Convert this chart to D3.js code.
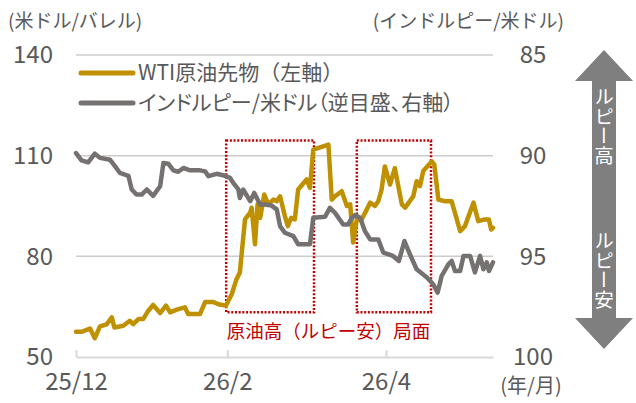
<!DOCTYPE html>
<html>
<head>
<meta charset="utf-8">
<script src="https://cdn.jsdelivr.net/npm/d3@7"></script>
<style>
body { margin: 0; background: #fff; }
svg text { font-family: "Noto Sans CJK JP", "Noto Sans", sans-serif; fill: #595959; }
</style>
</head>
<body>
<div id="chart"></div>
<script>
// trading-day index from 2025/12/1
var wtiDays = [0, 1.5, 3.8, 5.1, 6.5, 8.3, 9.7, 10.4, 12.8, 14.6, 15.5, 16.9, 18.2, 19.6, 20.9, 22.8, 24.4, 25.5, 27.3, 29.5, 30.4, 33.6, 35, 37.2, 38.6, 40.6, 42.2, 43.5,
    44.4, 45.8, 47.2, 47.6, 48.5, 49.2, 49.9, 51, 52.1, 53.5, 54.4, 55.3, 56.6, 57.4, 58.3, 59.3, 60.2, 62.5, 63.4, 64.3, 68.4, 69.3, 70.2, 72, 73.4, 74.3, 75.1,
    76.1, 77.4, 78.8, 79.7, 81, 81.9, 82.8, 83.7, 85.1, 86.4, 88.3, 89.2, 91.4, 92.3, 93.2, 94.1, 96.4, 97.1, 98.2, 100, 101.8, 104.1, 105.4, 107.7, 109, 110.8, 111.9, 112.5, 113];
var wtiValues = [57.5, 57.5, 58.5, 55.6, 59.1, 59.7, 61.8, 58.8, 59.3, 60.8, 59.8, 61.3, 61.3, 63.8, 65.5, 63.1, 65.3, 63.3, 64.1, 64.8, 62.8, 62.8, 66.4, 66.4, 65.7, 65.3, 68.7, 73.2,
    75.2, 91.0, 93.0, 94.5, 83.6, 95.5, 91.5, 98.4, 95.5, 96.9, 96.4, 97.9, 92.0, 89.0, 91.5, 91.0, 99.9, 102.9, 100.4, 111.8, 113.3, 96.9, 97.9, 99.4, 95.0, 95.5, 84.1,
    91.0, 91.0, 94.0, 96.0, 95.0, 96.4, 99.9, 106.8, 101.4, 106.3, 95.5, 94.5, 97.9, 102.4, 100.9, 105.4, 108.3, 107.3, 96.9, 96.4, 96.4, 87.5, 89.0, 96.0, 90.5, 91.0, 91.0, 88.0, 88.5];

var inrDays = [0, 1.5, 3.3, 5.1, 6.5, 9.2, 10.6, 11.9, 14.2, 15.1, 16.4, 17.8, 19.2, 20.9, 22.8, 23.7, 25, 26.4, 27.7, 29.1, 30.9, 33.6, 35, 35.9, 38.1, 40.4,
    41.7, 42.6, 44, 44.4, 45.3, 47.2, 48.3, 49.9, 51.2, 53, 54.4, 55.3, 56.6, 58.9, 60.2, 63.4, 64.3, 67.5, 68.8, 70.2, 72.4, 73.7, 74.7, 75.6, 77, 78.3, 79.7,
    81.9, 83.3, 85.9, 87.5, 89, 90.5, 92.3, 95.1, 96.8, 98, 99.1, 100.9, 101.8, 102.7, 104.1, 105, 106.8, 108.1, 109.5, 110.4, 111.3, 111.9, 113];
var inrValues = [89.87, 90.23, 90.33, 89.9, 90.11, 90.2, 90.53, 90.86, 91.0, 91.68, 91.93, 91.93, 91.68, 92.0, 91.52, 90.36, 90.4, 90.73, 90.8, 90.61, 90.73, 90.73, 90.78, 91.02, 90.9, 91.0,
    91.1, 91.35, 91.68, 92.1, 91.68, 92.26, 91.85, 92.43, 92.43, 92.48, 92.67, 93.5, 93.83, 94.0, 94.4, 94.4, 93.08, 93.03, 92.59, 92.84, 93.42, 93.42, 93.1, 92.95, 93.08, 93.75, 94.16,
    94.16, 94.82, 94.98, 95.23, 94.24, 94.9, 95.64, 96.05, 96.39, 96.8, 95.97, 95.4, 95.23, 95.73, 95.73, 94.98, 94.98, 95.8, 94.98, 95.64, 95.3, 95.73, 95.3];

var tickDays = [0, 41, 84];
var tickLabels = ["25/12", "26/2", "26/4"];
var leftTicks = [50, 80, 110, 140];
var rightTicks = [85, 90, 95, 100];
// 原油高（ルピー安）局面: start/end day
var phaseStart = [40.7, 76.1];
var phaseEnd = [64.5, 96.2];
var seriesNames = ["WTI原油先物（左軸）", "インドルピー/米ドル（逆目盛、右軸）"];

var W = 636, H = 403;
var mLeft = 76, mRight = 493, mTop = 55, mBottom = 357;
var gold = "#bf9000", grey = "#767171", red = "#c00000";

var svg = d3.select("#chart").append("svg")
    .attr("width", W)
    .attr("height", H);

var x = d3.scaleLinear().domain([0, 113]).range([mLeft, mRight]);
var yL = d3.scaleLinear().domain([50, 140]).range([mBottom, mTop]);
var yR = d3.scaleLinear().domain([85, 100]).range([mTop, mBottom]);

// grid
svg.append("g")
    .selectAll("line")
    .data(leftTicks.slice(1))
    .enter().append("line")
    .attr("x1", mLeft).attr("x2", mRight)
    .attr("y1", function(d) { return yL(d); })
    .attr("y2", function(d) { return yL(d); })
    .attr("stroke", "#cccccc")
    .attr("stroke-width", 1.5);

// x axis
var xAxis = svg.append("g")
    .attr("transform", "translate(0," + mBottom + ")")
    .call(d3.axisBottom(x).tickValues(tickDays)
        .tickFormat(function(d, i) { return tickLabels[i]; })
        .tickSizeInner(-7).tickSizeOuter(0).tickPadding(16));
xAxis.select(".domain").attr("stroke", "#d9d9d9").attr("stroke-width", 2);
xAxis.selectAll(".tick line").attr("stroke", "#d9d9d9").attr("stroke-width", 2);
xAxis.selectAll(".tick text").style("font-size", "24px").attr("fill", "#595959");
svg.append("text")
    .attr("x", 531).attr("y", mBottom + 36)
    .attr("text-anchor", "middle")
    .style("font-size", "20px")
    .text("(年/月)");

// left axis
var yAxisL = svg.append("g")
    .attr("transform", "translate(53,0)")
    .call(d3.axisLeft(yL).tickValues(leftTicks).tickSize(0).tickPadding(0));
yAxisL.select(".domain").remove();
yAxisL.selectAll("text").style("font-size", "24px").attr("fill", "#595959");

// right axis
var yAxisR = svg.append("g")
    .attr("transform", "translate(533,0)")
    .call(d3.axisRight(yR).tickValues(rightTicks).tickSize(0).tickPadding(0));
yAxisR.select(".domain").remove();
yAxisR.selectAll("text").attr("text-anchor", "middle").style("font-size", "24px").attr("fill", "#595959");

// axis titles
svg.append("text").attr("x", 8).attr("y", 28).style("font-size", "19px").text("(米ドル/バレル)");
svg.append("text").attr("x", 564).attr("y", 28).attr("text-anchor", "end").style("font-size", "19px").text("(インドルピー/米ドル)");

// phase boxes
svg.append("g")
    .selectAll("rect")
    .data(phaseStart)
    .enter().append("rect")
    .attr("x", function(d) { return x(d); })
    .attr("width", function(d, i) { return x(phaseEnd[i]) - x(d); })
    .attr("y", yL(114.5))
    .attr("height", yL(63.3) - yL(114.5))
    .attr("fill", "none")
    .attr("stroke", red)
    .attr("stroke-width", 2.5)
    .attr("stroke-dasharray", "2,1.7");
svg.append("text")
    .attr("x", (x(phaseStart[0]) + x(phaseEnd[1])) / 2)
    .attr("y", yL(63.3) + 26)
    .attr("text-anchor", "middle")
    .style("fill", red)
    .style("font-size", "18.5px")
    .text("原油高（ルピー安）局面");

// lines
var wtiLine = d3.line()
    .x(function(d) { return x(wtiDays[d]); })
    .y(function(d) { return yL(wtiValues[d]); });
var inrLine = d3.line()
    .x(function(d) { return x(inrDays[d]); })
    .y(function(d) { return yR(inrValues[d]); });

svg.append("path")
    .attr("d", wtiLine(d3.range(wtiDays.length)))
    .attr("fill", "none")
    .attr("stroke", gold)
    .attr("stroke-width", 4.5)
    .attr("stroke-linejoin", "round")
    .attr("stroke-linecap", "round");
svg.append("path")
    .attr("d", inrLine(d3.range(inrDays.length)))
    .attr("fill", "none")
    .attr("stroke", grey)
    .attr("stroke-width", 4.5)
    .attr("stroke-linejoin", "round")
    .attr("stroke-linecap", "round");

// legend
var legend = svg.append("g")
    .selectAll("g")
    .data(seriesNames)
    .enter().append("g")
    .attr("transform", function(d, i) { return "translate(81," + (73 + i * 30) + ")"; });
legend.append("line")
    .attr("x1", 0).attr("x2", 52)
    .attr("stroke", function(d, i) { return i === 0 ? gold : grey; })
    .attr("stroke-width", 5)
    .attr("stroke-linecap", "round");
legend.append("text")
    .attr("x", 57)
    .attr("dy", "0.35em")
    .style("font-size", "21px")
    // kana-heavy second entry is set proportionally, as in the original
    .style("font-feature-settings", function(d, i) { return i === 1 ? "'palt'" : "normal"; })
    .text(function(d) { return d; });

// double arrow on the right
var ax = 604, hw = 29, sw = 12;
var arrow = d3.path();
arrow.moveTo(ax, 50);
arrow.lineTo(ax + hw, 81);
arrow.lineTo(ax + sw, 81);
arrow.lineTo(ax + sw, 318);
arrow.lineTo(ax + hw, 318);
arrow.lineTo(ax, 349);
arrow.lineTo(ax - hw, 318);
arrow.lineTo(ax - sw, 318);
arrow.lineTo(ax - sw, 81);
arrow.lineTo(ax - hw, 81);
arrow.closePath();
svg.append("path").attr("d", arrow.toString()).attr("fill", "#7f7f7f");

svg.append("text")
    .attr("x", ax).attr("y", 87)
    .style("writing-mode", "vertical-rl")
    .style("font-size", "19.5px")
    .style("fill", "#fff")
    .text("ルピー高");
svg.append("text")
    .attr("x", ax).attr("y", 231)
    .style("writing-mode", "vertical-rl")
    .style("font-size", "19.5px")
    .style("fill", "#fff")
    .text("ルピー安");
</script>
</body>
</html>
